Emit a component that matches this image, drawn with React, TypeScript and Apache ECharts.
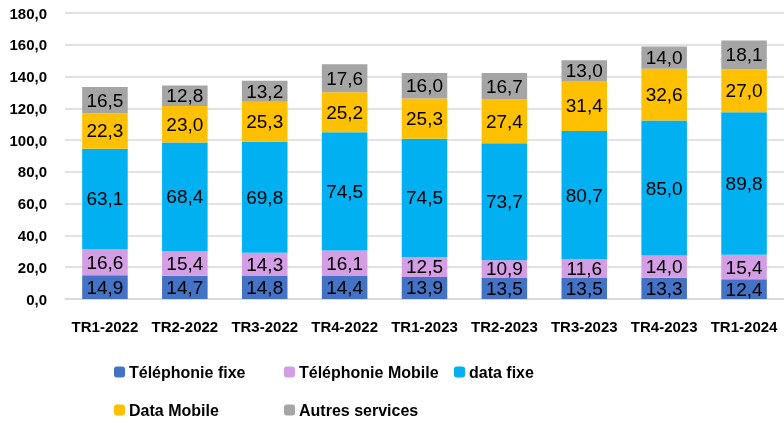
import React, { useEffect, useRef } from "react";
import * as echarts from "echarts";

const categories = ["TR1-2022", "TR2-2022", "TR3-2022", "TR4-2022", "TR1-2023", "TR2-2023", "TR3-2023", "TR4-2023", "TR1-2024"];
const telFixe = [14.9, 14.7, 14.8, 14.4, 13.9, 13.5, 13.5, 13.3, 12.4];
const telMobile = [16.6, 15.4, 14.3, 16.1, 12.5, 10.9, 11.6, 14.0, 15.4];
const dataFixe = [63.1, 68.4, 69.8, 74.5, 74.5, 73.7, 80.7, 85.0, 89.8];
const dataMobile = [22.3, 23.0, 25.3, 25.2, 25.3, 27.4, 31.4, 32.6, 27.0];
const autres = [16.5, 12.8, 13.2, 17.6, 16.0, 16.7, 13.0, 14.0, 18.1];

const seriesNames = ["Téléphonie fixe", "Téléphonie Mobile", "data fixe", "Data Mobile", "Autres services"];
const colors = ["#4472C4", "#D39EE3", "#00B0F0", "#FFC000", "#A5A5A5"];

export default function App() {
  const ref = useRef<HTMLDivElement>(null);
  useEffect(() => {
    if (!ref.current) return;
    const chart = echarts.init(ref.current, undefined, { renderer: "svg" });
    const values = [telFixe, telMobile, dataFixe, dataMobile, autres];
    const fmt = (v: number) => v.toFixed(1).replace(".", ",");
    const legendPos = [
      { left: 114, top: 364 },
      { left: 284, top: 364 },
      { left: 454, top: 364 },
      { left: 114, top: 402 },
      { left: 284, top: 402 },
    ];
    chart.setOption({
      animation: false,
      color: colors,
      textStyle: { fontFamily: "Liberation Sans" },
      grid: { left: 65, right: 0, top: 13, bottom: 129 },
      legend: seriesNames.map((n, i) => ({
        data: [n],
        left: legendPos[i].left,
        top: legendPos[i].top,
        itemWidth: 11,
        itemHeight: 11,
        itemGap: 4,
        padding: 0,
        textStyle: { fontSize: 16, fontWeight: "bold", color: "#000", fontFamily: "Liberation Sans", padding: [0, 0, 0, -1] },
      })),
      xAxis: {
        type: "category",
        data: categories,
        axisLine: { lineStyle: { color: "#D9D9D9", width: 1.5 } },
        axisTick: { show: false },
        axisLabel: { interval: 0, fontSize: 15, fontWeight: "bold", color: "#000", margin: 20, fontFamily: "Liberation Sans" },
      },
      yAxis: {
        type: "value",
        min: 0,
        max: 180,
        interval: 20,
        axisLine: { show: false },
        axisTick: { show: false },
        splitLine: { lineStyle: { color: "#D9D9D9", width: 1.5 } },
        axisLabel: { fontSize: 15, fontWeight: "bold", color: "#000", margin: 18, formatter: (v: number) => fmt(v) },
      },
      series: seriesNames.map((n, i) => ({
        name: n,
        type: "bar",
        stack: "total",
        barWidth: "57%",
        data: values[i],
        itemStyle: { color: colors[i] },
        label: {
          show: true,
          position: "inside",
          fontSize: 19,
          color: "#000",
          fontFamily: "Liberation Sans",
          formatter: (p: any) => fmt(p.value),
        },
      })),
    });
    return () => chart.dispose();
  }, []);
  return <div ref={ref} style={{ position: "fixed", left: 0, top: 0, width: 784, height: 428 }} />;
}
